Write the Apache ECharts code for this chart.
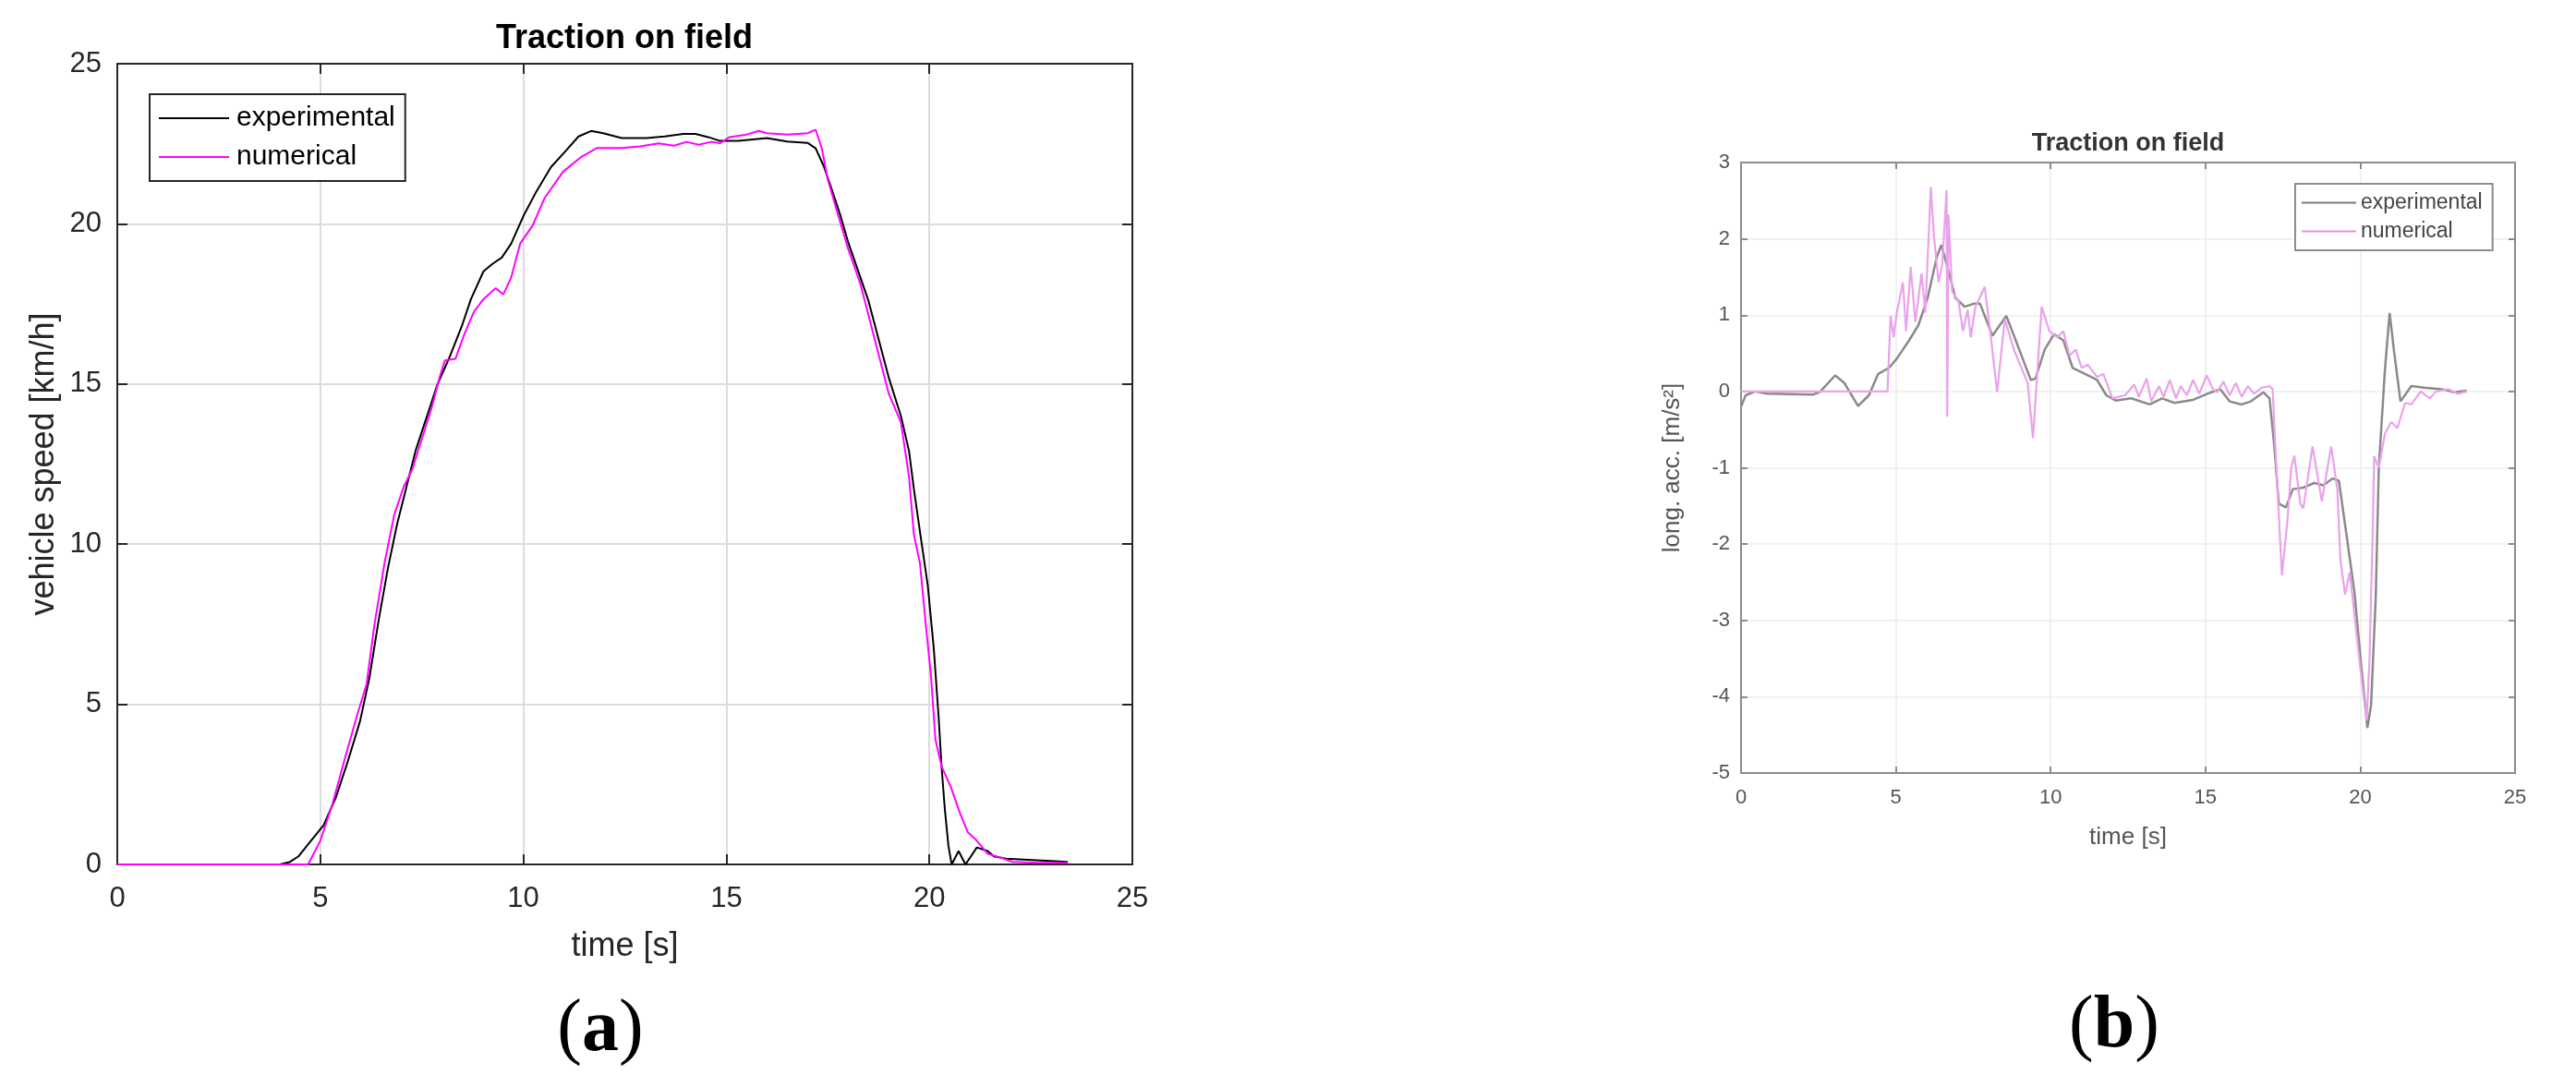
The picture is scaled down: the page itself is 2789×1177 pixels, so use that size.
<!DOCTYPE html>
<html>
<head>
<meta charset="utf-8">
<title>Traction on field</title>
<script src="https://cdn.jsdelivr.net/npm/echarts@6/dist/echarts.min.js"></script>
<style>
  html, body { margin: 0; padding: 0; background: #fff; }
  #chart { width: 2789px; height: 1177px; }
</style>
</head>
<body>
<div id="chart"></div>
<script>
// (a) vehicle speed [km/h] vs time [s]
const expSpeedT = [0, 4.0, 4.24, 4.47, 4.77, 5.08, 5.38, 5.68, 5.98, 6.21, 6.44, 6.67, 6.89, 7.12, 7.35, 7.88,
  8.18, 8.48, 8.71, 9.02, 9.24, 9.47, 9.7, 10.0, 10.3, 10.68, 11.06, 11.36, 11.67, 11.97, 12.42, 13.03, 13.48,
  13.94, 14.24, 14.55, 14.85, 15.3, 16.0, 16.5, 17.0, 17.2, 17.4, 17.6, 17.8, 18.0, 18.5, 19.0, 19.3, 19.5,
  19.62, 19.77, 19.96, 20.11, 20.23, 20.3, 20.38, 20.47, 20.55, 20.72, 20.89, 21.17, 21.44, 21.59, 21.89,
  22.65, 23.41]
const expSpeedV = [0, 0, 0.07, 0.26, 0.74, 1.22, 2.08, 3.23, 4.48, 5.83, 7.65, 9.28, 10.62, 11.78, 12.93, 14.97,
  15.83, 16.79, 17.65, 18.52, 18.75, 18.95, 19.38, 20.24, 20.96, 21.77, 22.3, 22.73, 22.9, 22.83, 22.68, 22.68, 22.73,
  22.81, 22.81, 22.71, 22.59, 22.59, 22.68, 22.57, 22.53, 22.36, 21.8, 21.06, 20.3, 19.43, 17.6, 15.2, 14.0, 12.9,
  11.71, 10.38, 8.72, 6.73, 4.57, 3.07, 1.74, 0.58, 0, 0.42, 0, 0.53, 0.42, 0.25, 0.18,
  0.13, 0.08]
const numSpeedT = [0, 4.7, 5.0, 5.3, 5.61, 5.91, 6.14, 6.33, 6.59, 6.82, 7.05, 7.27, 7.46, 7.73, 7.95, 8.07, 8.33,
  8.56, 8.79, 9.02, 9.32, 9.51, 9.7, 9.92, 10.23, 10.53, 10.98, 11.44, 11.82, 12.42, 12.88, 13.33, 13.71, 14.02,
  14.32, 14.62, 14.85, 15.08, 15.5, 15.8, 16.0, 16.5, 17.0, 17.2, 17.35, 17.5, 17.7, 18.0, 18.3, 18.5, 19.0,
  19.3, 19.5, 19.62, 19.77, 19.92, 20.04, 20.15, 20.3, 20.53, 20.76, 20.95, 21.14, 21.44, 21.74, 22.05, 22.65, 23.41]
const numSpeedV = [0, 0, 0.74, 1.89, 3.33, 4.67, 5.63, 7.46, 9.47, 10.91, 11.78, 12.35, 13.12, 14.2, 15.26, 15.74, 15.79,
  16.6, 17.27, 17.65, 17.99, 17.8, 18.32, 19.38, 19.95, 20.82, 21.63, 22.1, 22.37, 22.37, 22.42, 22.51, 22.44, 22.56,
  22.47, 22.56, 22.52, 22.71, 22.79, 22.9, 22.83, 22.79, 22.83, 22.94, 22.36, 21.38, 20.5, 19.22, 18.13, 17.16, 14.7,
  13.8, 12.1, 10.3, 9.39, 7.39, 5.9, 3.9, 3.07, 2.41, 1.58, 1.0, 0.78, 0.33, 0.22, 0.08, 0.05, 0.05]

// (b) long. acc. [m/s^2] vs time [s]
const expAccT = [0, 0.15, 0.45, 0.85, 2.34, 2.54, 3.04, 3.34, 3.78, 4.13, 4.43, 4.78, 5.03, 5.43, 5.73, 6.03, 6.32,
  6.47, 6.72, 6.92, 7.22, 7.52, 7.72, 8.12, 8.57, 8.91, 9.36, 9.51, 9.81, 10.11, 10.41, 10.71, 11.11, 11.5, 11.8,
  12.1, 12.6, 13.2, 13.6, 14.0, 14.6, 15.19, 15.48, 15.78, 16.17, 16.47, 16.87, 17.07, 17.22, 17.37, 17.6, 17.82,
  18.16, 18.51, 18.81, 19.11, 19.31, 19.56, 19.81, 20.01, 20.23, 20.35, 20.5, 20.6, 20.8, 20.95, 21.1, 21.3,
  21.65, 22.05, 22.64, 23.04, 23.44]
const expAccV = [-0.2, -0.05, 0, -0.03, -0.04, -0.01, 0.21, 0.11, -0.19, -0.05, 0.23, 0.31, 0.43, 0.67, 0.87, 1.23, 1.76,
  1.92, 1.55, 1.23, 1.11, 1.15, 1.15, 0.73, 0.99, 0.63, 0.15, 0.17, 0.55, 0.75, 0.67, 0.31, 0.23, 0.15, -0.05,
  -0.12, -0.09, -0.17, -0.09, -0.15, -0.11, -0.01, 0.03, -0.13, -0.17, -0.13, -0.01, -0.09, -0.7, -1.47, -1.52, -1.28,
  -1.26, -1.2, -1.23, -1.14, -1.17, -1.89, -2.62, -3.5, -4.41, -4.11, -2.7, -1.0, 0.3, 1.03, 0.5, -0.13,
  0.07, 0.05, 0.03, -0.01, 0.01]
const numAccT = [0, 4.73, 4.83, 4.93, 5.03, 5.23, 5.33, 5.48, 5.63, 5.83, 5.95, 6.13, 6.23, 6.38, 6.5, 6.64, 6.66, 6.7,
  6.82, 7.02, 7.17, 7.32, 7.42, 7.57, 7.87, 8.07, 8.27, 8.52, 8.81, 9.26, 9.43, 9.71, 9.96, 10.21, 10.41, 10.61,
  10.81, 11.0, 11.2, 11.5, 11.7, 12.0, 12.4, 12.7, 12.85, 13.1, 13.25, 13.5, 13.65, 13.85, 14.05, 14.2, 14.4, 14.6,
  14.8, 15.04, 15.24, 15.38, 15.58, 15.78, 15.98, 16.17, 16.37, 16.57, 16.82, 17.07, 17.17, 17.29, 17.47, 17.65,
  17.77, 17.87, 18.07, 18.16, 18.46, 18.76, 19.06, 19.26, 19.36, 19.51, 19.66, 19.86, 20.06, 20.21, 20.3, 20.4,
  20.45, 20.6, 20.8, 21.0, 21.2, 21.45, 21.65, 21.95, 22.25, 22.45, 22.85, 23.15, 23.45]
const numAccV = [0, 0, 0.99, 0.71, 1.03, 1.43, 0.79, 1.63, 0.91, 1.55, 1.03, 2.68, 2.04, 1.43, 1.67, 2.64, -0.33, 2.32,
  1.31, 1.19, 0.79, 1.07, 0.71, 1.11, 1.37, 0.71, -0.01, 0.95, 0.55, 0.11, -0.61, 1.11, 0.79, 0.71, 0.79, 0.47,
  0.55, 0.31, 0.35, 0.19, 0.23, -0.09, -0.05, 0.09, -0.07, 0.17, -0.13, 0.07, -0.07, 0.15, -0.09, 0.07, -0.05, 0.15,
  -0.03, 0.21, 0.03, -0.01, 0.13, -0.05, 0.11, -0.07, 0.07, -0.03, 0.05, 0.07, 0.03, -0.98, -2.41, -1.69,
  -1.0, -0.84, -1.48, -1.53, -0.72, -1.44, -0.72, -1.28, -2.21, -2.66, -2.37, -3.1, -3.83, -4.31, -3.5, -1.89,
  -0.85, -1.0, -0.55, -0.4, -0.48, -0.15, -0.17, 0, -0.09, 0, 0.03, -0.03, 0]

const FONT = 'Liberation Sans, Arial, sans-serif'
const SERIF = 'Liberation Serif, Times New Roman, serif'

function pairs (t, v) {
  return t.map((x, i) => [x, v[i]])
}

// matlab style box: labelled axis plus a bare mirrored one with inward ticks
function boxAxes (gridIndex, dim, range, s) {
  const base = { type: 'value', gridIndex, min: range[0], max: range[1], interval: range[2] }
  const line = { onZero: false, lineStyle: { color: s.frame, width: s.frameWidth } }
  const tick = { inside: true, length: s.tick, lineStyle: { color: s.frame, width: s.frameWidth } }
  const main = Object.assign({}, base, {
    position: dim === 'x' ? 'bottom' : 'left',
    name: dim === 'x' ? 'time [s]' : s.yName,
    nameLocation: 'middle',
    nameGap: dim === 'x' ? s.xNameGap : s.yNameGap,
    nameTextStyle: { fontSize: s.nameSize, color: s.text, fontFamily: FONT },
    axisLine: line,
    axisTick: tick,
    axisLabel: { fontSize: s.labelSize, color: s.text, fontFamily: FONT, margin: dim === 'x' ? s.xMargin : s.yMargin },
    splitLine: { show: true, lineStyle: { color: s.grid, width: s.gridWidth } }
  })
  const mirror = Object.assign({}, base, {
    position: dim === 'x' ? 'top' : 'right',
    axisLine: line,
    axisTick: tick,
    axisLabel: { show: false },
    splitLine: { show: false }
  })
  return [main, mirror]
}

function panelLabel (letter, x, y) {
  return {
    text: '{p|(}{b|' + letter + '}{p|)}', left: x, top: y, textAlign: 'center', padding: 0,
    textStyle: {
      fontWeight: 'normal',
      rich: {
        p: { fontSize: 80, fontFamily: SERIF, color: '#000', fontWeight: 'normal' },
        b: { fontSize: 80, fontFamily: SERIF, color: '#000', fontWeight: 'bold' }
      }
    }
  }
}

const styleA = {
  frame: '#262626', frameWidth: 2, tick: 11, text: '#262626', grid: '#dcdcdc', gridWidth: 2,
  labelSize: 31, nameSize: 36, xMargin: 22, yMargin: 17, xNameGap: 71, yNameGap: 61,
  yName: 'vehicle speed [km/h]'
}
const styleB = {
  frame: '#8c8c8c', frameWidth: 2, tick: 7, text: '#555555', grid: '#ececec', gridWidth: 1.5,
  labelSize: 22, nameSize: 26, xMargin: 16, yMargin: 12, xNameGap: 57, yNameGap: 61,
  yName: 'long. acc. [m/s²]'
}

const chart = echarts.init(document.getElementById('chart'))

const option = {
  animation: false,
  backgroundColor: '#fff',
  title: [
    { text: 'Traction on field', left: 676, top: 24, textAlign: 'center', padding: 0,
      textStyle: { fontSize: 36, fontWeight: 'bold', color: '#000', fontFamily: FONT } },
    { text: 'Traction on field', left: 2304, top: 142, textAlign: 'center', padding: 0,
      textStyle: { fontSize: 27, fontWeight: 'bold', color: '#333', fontFamily: FONT } },
    panelLabel('a', 650, 1076),
    panelLabel('b', 2289, 1072)
  ],
  legend: [
    {
      orient: 'vertical', left: 162, top: 102, padding: [11, 11, 11, 10], itemGap: 12,
      itemWidth: 76, itemHeight: 2, icon: 'rect',
      borderColor: '#262626', borderWidth: 2, backgroundColor: '#fff',
      textStyle: { fontSize: 30, lineHeight: 30, color: '#000', fontFamily: FONT, padding: [0, 0, 0, 3] },
      data: [
        { name: 'experimental', itemStyle: { color: '#000' } },
        { name: 'numerical', itemStyle: { color: '#ff00ff' } }
      ]
    },
    {
      orient: 'vertical', left: 2485, top: 199, padding: [9, 11, 9, 7], itemGap: 8,
      itemWidth: 59, itemHeight: 2, icon: 'rect',
      borderColor: '#8c8c8c', borderWidth: 2, backgroundColor: '#fff',
      textStyle: { fontSize: 23, lineHeight: 23, color: '#444', fontFamily: FONT },
      data: [
        { name: 'experimental', itemStyle: { color: '#7a7a7a' } },
        { name: 'numerical', itemStyle: { color: '#e48fe4' } }
      ]
    }
  ],
  grid: [
    { left: 127, top: 69, width: 1099, height: 867 },
    { left: 1885, top: 176, width: 838, height: 661 }
  ],
  xAxis: [
    ...boxAxes(0, 'x', [0, 25, 5], styleA),
    ...boxAxes(1, 'x', [0, 25, 5], styleB)
  ],
  yAxis: [
    ...boxAxes(0, 'y', [0, 25, 5], styleA),
    ...boxAxes(1, 'y', [-5, 3, 1], styleB)
  ],
  series: [
    { name: 'experimental', type: 'line', xAxisIndex: 0, yAxisIndex: 0, data: pairs(expSpeedT, expSpeedV),
      symbol: 'none', lineStyle: { color: '#000', width: 2 }, itemStyle: { color: '#000' } },
    { name: 'numerical', type: 'line', xAxisIndex: 0, yAxisIndex: 0, data: pairs(numSpeedT, numSpeedV),
      symbol: 'none', lineStyle: { color: '#ff00ff', width: 2 }, itemStyle: { color: '#ff00ff' } },
    { name: 'experimental', type: 'line', xAxisIndex: 2, yAxisIndex: 2, data: pairs(expAccT, expAccV),
      symbol: 'none', lineStyle: { color: '#8a8a8a', width: 2.5 }, itemStyle: { color: '#7a7a7a' } },
    { name: 'numerical', type: 'line', xAxisIndex: 2, yAxisIndex: 2, data: pairs(numAccT, numAccV),
      symbol: 'none', lineStyle: { color: '#eaa2ea', width: 2.2 }, itemStyle: { color: '#e48fe4' } }
  ]
}

chart.setOption(option)
</script>
</body>
</html>
